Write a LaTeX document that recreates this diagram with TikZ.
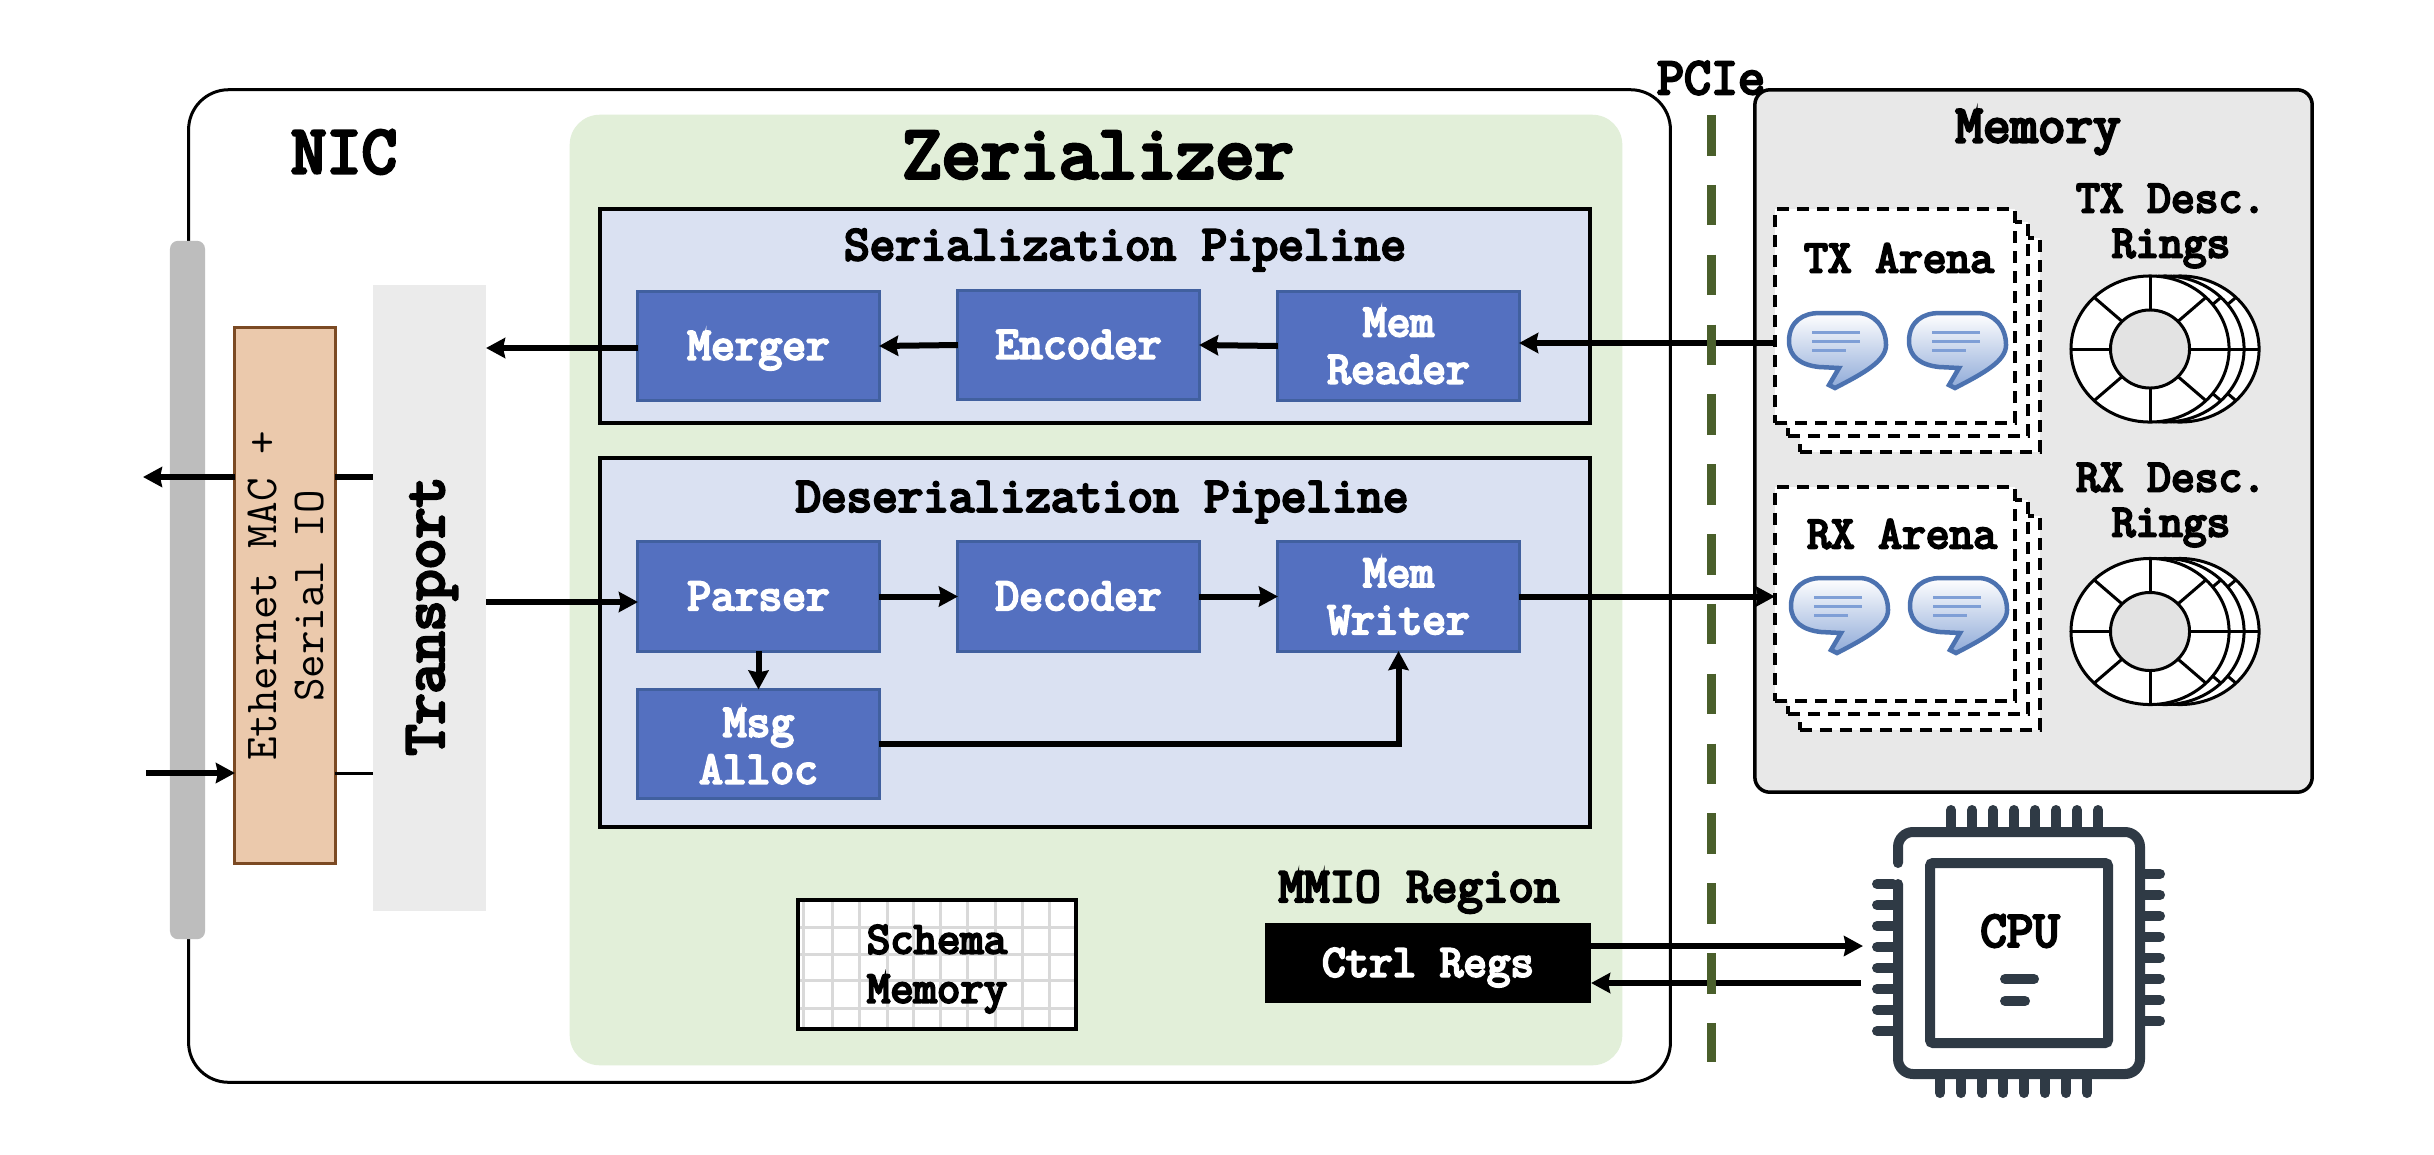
\documentclass[tikz,border=0pt]{standalone}
\usepackage{fontspec}
\usepackage{tikz}
\usetikzlibrary{arrows.meta}

\setmonofont{Latin Modern Mono}[BoldFont={Latin Modern Mono},BoldFeatures={FakeBold=5}]

\definecolor{greenpanel}{HTML}{E2EFD9}
\definecolor{pipeblue}{HTML}{DAE1F2}
\definecolor{blockblue}{HTML}{5470C0}
\definecolor{blockedge}{HTML}{41609F}
\definecolor{macfill}{HTML}{EBC9AC}
\definecolor{macedge}{HTML}{7B4A23}
\definecolor{pciegreen}{HTML}{4A5F2B}
\definecolor{cpudark}{HTML}{2F3A45}
\definecolor{bubbleedge}{HTML}{4C72B0}
\definecolor{bubblelow}{HTML}{8FAAD8}
\definecolor{bubbletext}{HTML}{7F9FD6}

\newcommand{\monolabel}[2]{\fontsize{#1}{#2}\selectfont\ttfamily\bfseries}

\tikzset{
    panel/.style={inner sep=0pt, outer sep=0pt},
    pipebox/.style={panel, draw=black, fill=pipeblue, line width=0.04cm, minimum width=9.9cm},
    blockbox/.style={panel, draw=blockedge, fill=blockblue, text=white, line width=0.03cm,
        minimum width=2.41cm, minimum height=1.09cm, align=center, font=\monolabel{13.1}{13.4}},
    oneline/.style={text height=0.37cm, text depth=0.1cm},
    arenabox/.style={panel, draw=black, fill=white, line width=0.035cm,
        dash pattern=on 0.12cm off 0.08cm, minimum width=2.4cm, minimum height=2.14cm},
    title/.style={align=center, font=\monolabel{13.1}{12.8}},
    flowline/.style={line width=0.06cm},
    flowarrow/.style={flowline, -{Stealth[length=0.19cm,width=0.2cm,inset=0.02cm]}},
    cpuline/.style={draw=cpudark, line width=0.1cm, line cap=round},
    ringline/.style={draw=black, line width=0.03cm},
}

\newcommand{\msgbubble}[1]{
    \begin{scope}[shift={#1}]
        \draw[draw=bubbleedge, line width=0.045cm, top color=white, bottom color=bubblelow]
            (0,28) .. controls (0,8) and (15,0) .. (30,0) -- (68,0)
            .. controls (85,0) and (97,14) .. (97,32)
            .. controls (97,48) and (75,60) .. (46,75) -- (40,72) -- (50,55) -- (30,54)
            .. controls (12,52) and (0,44) .. (0,28) -- cycle;
        \draw[bubbletext, line width=0.03cm] (23,19) -- (71,19) (23,28) -- (71,28) (23,37) -- (57,37);
    \end{scope}
}

\newcommand{\descring}[1]{
    \begin{scope}[shift={#1}]
        \draw[ringline, fill=white] (0,0) ellipse (0.79cm and 0.73cm);
        \foreach \a in {0,45,...,315}
            \draw[ringline] (\a:0.395cm and 0.39cm) -- (\a:0.79cm and 0.73cm);
        \draw[ringline, fill=black!11] (0,0) ellipse (0.395cm and 0.39cm);
    \end{scope}
}

\begin{document}
\begin{tikzpicture}[x=0.01cm, y=-0.01cm]
    \useasboundingbox (0,0) rectangle (2434,1154);

    % NIC and accelerator panels
    \node[panel, draw=black, fill=white, line width=0.03cm, rounded corners=0.4cm,
        minimum width=14.81cm, minimum height=9.92cm] (nic) at (929.5,586) {};
    \node[panel, fill=greenpanel, rounded corners=0.3cm,
        minimum width=10.52cm, minimum height=9.5cm] (zerializer) at (1096,590) {};
    \node[font=\monolabel{19.5}{20}] (niclabel) at (344,152) {NIC};
    \node[font=\monolabel{21.6}{22}] (zerlabel) at (1098,155) {Zerializer};

    % pipelines
    \node[pipebox, minimum height=2.13cm] (serpipe) at (1095,316) {};
    \node[pipebox, minimum height=3.69cm] (despipe) at (1095,642.5) {};
    \node[font=\monolabel{14.1}{14}] (serlabel) at (1125,250) {Serialization Pipeline};
    \node[font=\monolabel{14.1}{14}] (deslabel) at (1102,502) {Deserialization Pipeline};

    \node[blockbox, oneline] (merger) at (758.5,346) {Merger};
    \node[blockbox, oneline] (encoder) at (1078.5,345) {Encoder};
    \node[blockbox] (memreader) at (1398.5,346) {Mem\\Reader};
    \node[blockbox, oneline] (parser) at (758.5,596.5) {Parser};
    \node[blockbox, oneline] (decoder) at (1078.5,596.5) {Decoder};
    \node[blockbox] (memwriter) at (1398.5,596.5) {Mem\\Writer};
    \node[blockbox] (msgalloc) at (758.5,744) {};
    \node[text=white, align=center, font=\monolabel{13.1}{13.4}] (msglabel) at (758.5,746) {Msg\\Alloc};

    % schema memory
    \fill[white] (798,900) rectangle (1076,1029);
    \foreach \x in {803,832,859,887,913,940,967,995,1022,1049}
        \draw[black!15, line width=0.03cm] (\x,900) -- (\x,1029);
    \foreach \y in {927,954,980,1008}
        \draw[black!15, line width=0.03cm] (798,\y) -- (1076,\y);
    \node[panel, draw=black, line width=0.04cm, minimum width=2.78cm, minimum height=1.29cm] (schema) at (937,964.5) {};
    \node[align=center, font=\monolabel{12.9}{14}] (schemalabel) at (937,969) {Schema\\Memory};

    % control registers
    \node[font=\monolabel{14.1}{14}] (mmiolabel) at (1419,892) {MMIO Region};
    \node[panel, fill=black, text=white, minimum width=3.26cm, minimum height=0.8cm, oneline,
        font=\monolabel{13}{14}] (ctrlregs) at (1428,963) {Ctrl Regs};

    % network side
    \node[panel, fill=black!26, rounded corners=0.08cm, minimum width=0.35cm, minimum height=6.98cm] (wire) at (187.5,590) {};
    \node[panel, draw=macedge, fill=macfill, line width=0.03cm, minimum width=1cm, minimum height=5.35cm] (ethernet) at (285,595.5) {};
    \node[rotate=90, align=center, font=\fontsize{13}{13.1}\selectfont\ttfamily] (ethernetlabel) at (286,596) {Ethernet MAC +\\Serial IO};
    \node[panel, fill=black!8, minimum width=1.13cm, minimum height=6.26cm] (transport) at (429.5,598) {};
    \node[rotate=90, font=\monolabel{17.1}{17}] (transportlabel) at (432,616) {Transport};

    % host memory
    \node[panel, draw=black, fill=black!9, line width=0.035cm, rounded corners=0.15cm,
        minimum width=5.57cm, minimum height=7.02cm] (memory) at (2033.5,441) {};
    \node[font=\monolabel{15.2}{16}] (memlabel) at (2038,132) {Memory};

    \node[arenabox] at (1920,345) {};
    \node[arenabox] at (1908,329) {};
    \node[arenabox] (txarena) at (1895,316) {};
    \node[title] (txlabel) at (1899,258) {TX Arena};
    \msgbubble{(1789,313)}
    \msgbubble{(1909,313)}
    \node[title] (txrings) at (2171,226) {TX Desc.\\Rings};
    \descring{(2180,349)}
    \descring{(2165,349)}
    \descring{(2150,349)}

    \node[arenabox] at (1920,623) {};
    \node[arenabox] at (1908,607) {};
    \node[arenabox] (rxarena) at (1895,594) {};
    \node[title] (rxlabel) at (1902,534) {RX Arena};
    \msgbubble{(1791,578)}
    \msgbubble{(1910,578)}
    \node[title] (rxrings) at (2171,505) {RX Desc.\\Rings};
    \descring{(2180,631.5)}
    \descring{(2165,631.5)}
    \descring{(2150,631.5)}

    % cpu
    \draw[cpuline, rounded corners=0.15cm] (1898,863) -- (1898,832) -- (2140,832) -- (2140,1074) -- (1898,1074) -- (1898,884);
    \draw[cpuline, rounded corners=0.03cm] (1930,863) rectangle (2108,1043);
    \foreach \i in {0,...,7} {
        \draw[cpuline] (1951+21*\i,810) -- (1951+21*\i,827);
        \draw[cpuline] (1940+21*\i,1079) -- (1940+21*\i,1093);
        \draw[cpuline] (1877,884+21*\i) -- (1893,884+21*\i);
        \draw[cpuline] (2145,874+21*\i) -- (2160,874+21*\i);
    }
    \draw[cpuline] (2005,979) -- (2034,979);
    \draw[cpuline] (2005,1001) -- (2025,1001);
    \node[font=\monolabel{14.6}{15}] (cpu) at (2020,931) {CPU};

    % connector ends
    \coordinate (macout) at (143,477);
    \coordinate (macin) at (146,773);
    \coordinate (mergerout) at (638,348);
    \coordinate (transportout) at (486,602);
    \coordinate (txport) at (1775,343);
    \coordinate (cpuin) at (1863,946);
    \coordinate (cpuout) at (1861,983);

    % data path
    \draw[flowarrow] (mergerout) -- (transport.east |- mergerout);
    \draw[flowarrow] (encoder.west) -- (merger.east);
    \draw[flowarrow] (memreader.west) -- (encoder.east);
    \draw[flowarrow] (txport) -- (memreader.east |- txport);
    \draw[flowarrow] (transportout) -- (parser.west |- transportout);
    \draw[flowarrow] (parser.east) -- (decoder.west);
    \draw[flowarrow] (decoder.east) -- (memwriter.west);
    \draw[flowarrow] (parser.south) -- (msgalloc.north);
    \draw[flowarrow] (msgalloc.east) -| (memwriter.south);
    \draw[flowarrow] (memwriter.east) -- (rxarena.west |- memwriter.east);
    \draw[flowline] (transport.west |- macout) -- (ethernet.east |- macout);
    \draw[flowarrow] (ethernet.west |- macout) -- (macout);
    \draw[flowarrow] (macin) -- (ethernet.west |- macin);
    \draw[line width=0.03cm] (ethernet.east |- macin) -- (transport.west |- macin);
    \draw[flowarrow] (ctrlregs.east |- cpuin) -- (cpuin);
    \draw[flowarrow] (cpuout) -- (ctrlregs.east |- cpuout);

    % pcie boundary
    \coordinate (pcietop) at (1711,115);
    \coordinate (pciebottom) at (1711,1062);
    \draw[pciegreen, line width=0.09cm, dash pattern=on 0.405cm off 0.293cm] (pcietop) -- (pciebottom);
    \node[font=\monolabel{14.9}{15}] (pcielabel) at (1711,78) {PCIe};
\end{tikzpicture}
\end{document}
